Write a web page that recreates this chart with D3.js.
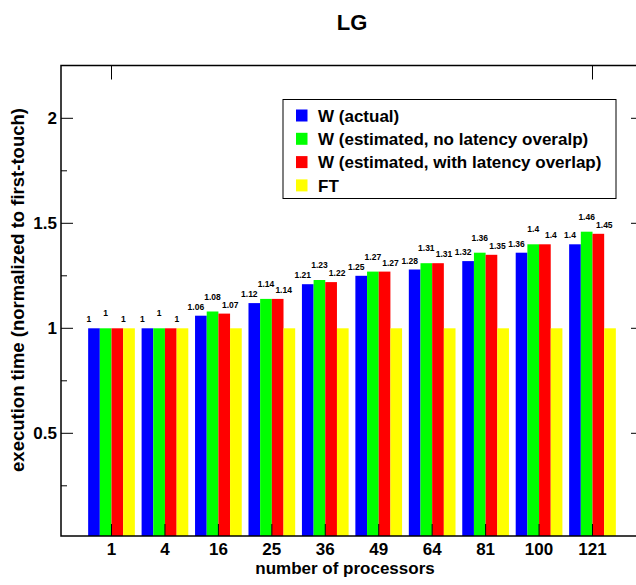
<!DOCTYPE html>
<html>
<head>
<meta charset="utf-8">
<script src="https://cdn.jsdelivr.net/npm/d3@7"></script>
<style>
  body { margin: 0; background: #fff; }
  svg { display: block; font-family: "Liberation Sans", Arial, sans-serif; font-weight: bold; }
</style>
</head>
<body>
<svg id="chart" width="636" height="585"></svg>
<script>
var categories = ["1", "4", "16", "25", "36", "49", "64", "81", "100", "121"];
var seriesNames = ["W (actual)", "W (estimated, no latency overalp)", "W (estimated, with latency overlap)", "FT"];
var wActual = [1, 1, 1.06, 1.12, 1.21, 1.25, 1.28, 1.32, 1.36, 1.4];
var wNoOverlap = [1, 1, 1.08, 1.14, 1.23, 1.27, 1.31, 1.36, 1.4, 1.46];
var wOverlap = [1, 1, 1.07, 1.14, 1.22, 1.27, 1.31, 1.35, 1.4, 1.45];
var ft = [1, 1, 1, 1, 1, 1, 1, 1, 1, 1];
var yTicks = [0.5, 1, 1.5, 2];
var yMinorTicks = [0.25, 0.75, 1.25, 1.75];

var colors = ["#0000ff", "#00ff00", "#ff0000", "#ffff00"];
var series = [wActual, wNoOverlap, wOverlap, ft];
// label offsets per series (staggered like the original)
var labelDx = [-5, 0, 6];
var labelDy = [-6, -12, -6];

var plotL = 61, plotR = 643, plotT = 65.5, plotB = 536;
var svg = d3.select("#chart");

var x = d3.scalePoint().domain(categories).range([plotL, plotR]).padding(0.945);
var groupW = 46.7;
var xs = d3.scaleBand().domain(d3.range(4)).range([-groupW / 2, groupW / 2]).padding(0);
var y = d3.scaleLinear().domain([0, 2]).range([538.3, 118.3]);

// bars
series.forEach(function(vals, s) {
    svg.append("g").selectAll("rect")
        .data(vals)
        .enter().append("rect")
        .attr("x", (d, i) => x(categories[i]) + xs(s))
        .attr("width", xs.bandwidth())
        .attr("y", d => y(d))
        .attr("height", d => plotB - y(d))
        .attr("fill", colors[s]);
});

// value labels
[wActual, wNoOverlap, wOverlap].forEach(function(vals, s) {
    svg.append("g").selectAll("text")
        .data(vals)
        .enter().append("text")
        .attr("x", (d, i) => x(categories[i]) + xs(s) + xs.bandwidth() / 2 + labelDx[s])
        .attr("y", d => y(d) + labelDy[s])
        .attr("text-anchor", "middle")
        .attr("font-size", "8.5px")
        .text(d => d);
});

// frame
svg.append("rect")
    .attr("x", plotL).attr("y", plotT)
    .attr("width", plotR - plotL).attr("height", plotB - plotT)
    .attr("fill", "none").attr("stroke", "#000").attr("stroke-width", 1.5);

// y axis
var yAxis = svg.append("g");
yTicks.forEach(function(t) {
    yAxis.append("line").attr("x1", plotL).attr("x2", plotL + 12).attr("y1", y(t)).attr("y2", y(t)).attr("stroke", "#000");
    yAxis.append("line").attr("x1", plotR).attr("x2", plotR - 12).attr("y1", y(t)).attr("y2", y(t)).attr("stroke", "#000");
    yAxis.append("text").attr("x", plotL - 4).attr("y", y(t)).attr("dy", "0.36em")
        .attr("text-anchor", "end").attr("font-size", "17px").text(t);
});
yMinorTicks.forEach(function(t) {
    yAxis.append("line").attr("x1", plotL).attr("x2", plotL + 6).attr("y1", y(t)).attr("y2", y(t)).attr("stroke", "#000");
    yAxis.append("line").attr("x1", plotR).attr("x2", plotR - 6).attr("y1", y(t)).attr("y2", y(t)).attr("stroke", "#000");
});

// x axis
var xAxis = svg.append("g");
categories.forEach(function(c) {
    xAxis.append("line").attr("x1", x(c)).attr("x2", x(c)).attr("y1", plotB).attr("y2", plotB - 12).attr("stroke", "#000");
    xAxis.append("text").attr("x", x(c)).attr("y", plotB + 19)
        .attr("text-anchor", "middle").attr("font-size", "17px").text(c);
});
[categories[0], categories[categories.length - 1]].forEach(function(c) {
    xAxis.append("line").attr("x1", x(c)).attr("x2", x(c)).attr("y1", plotT).attr("y2", plotT + 14).attr("stroke", "#000");
});

// titles
svg.append("text").attr("x", 352).attr("y", 30).attr("text-anchor", "middle")
    .attr("font-size", "22px").text("LG");
svg.append("text").attr("x", 345).attr("y", 574).attr("text-anchor", "middle")
    .attr("font-size", "17px").text("number of processors");
svg.append("text").attr("transform", "translate(24,290) rotate(-90)")
    .attr("text-anchor", "middle").attr("font-size", "18.5px")
    .text("execution time (normalized to first-touch)");

// legend
var lg = svg.append("g").attr("transform", "translate(283,99.5)");
lg.append("rect").attr("width", 333).attr("height", 99)
    .attr("fill", "#fff").attr("stroke", "#000");
seriesNames.forEach(function(name, i) {
    var row = lg.append("g").attr("transform", "translate(0," + (16 + i * 23.3) + ")");
    row.append("rect").attr("x", 13).attr("y", -6).attr("width", 11.5).attr("height", 12).attr("fill", colors[i]);
    row.append("text").attr("x", 35).attr("dy", "0.36em").attr("font-size", "17px").text(name);
});
</script>
</body>
</html>
